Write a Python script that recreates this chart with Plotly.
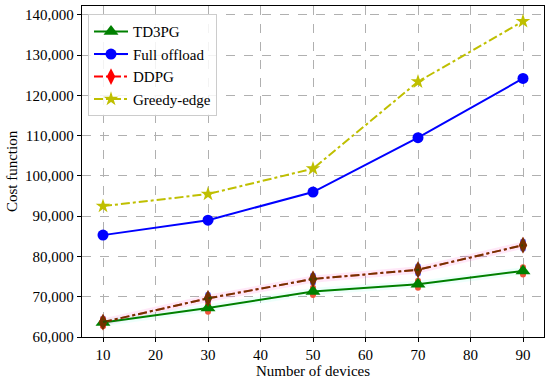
import plotly.graph_objects as go

devices = [10, 30, 50, 70, 90]
td3pg = [63600, 67200, 71300, 73100, 76400]
full_offload = [85300, 89000, 96000, 109500, 124200]
ddpg = [63700, 69600, 74400, 76700, 82800]
greedy_edge = [92500, 95500, 101800, 123400, 138400]
y_ticks = [60000, 70000, 80000, 90000, 100000, 110000, 120000, 130000, 140000]
y_tick_labels = [f"{v:,}" for v in y_ticks]
x_ticks = [10, 20, 30, 40, 50, 60, 70, 80, 90]

FONT = "Liberation Serif"
band = 900

fig = go.Figure()

# faint shaded bands
fig.add_trace(go.Scatter(x=devices + devices[::-1],
                         y=[v + band for v in ddpg] + [v - band for v in ddpg[::-1]],
                         fill="toself", fillcolor="rgba(255,80,200,0.13)",
                         line=dict(width=0), showlegend=False, hoverinfo="skip"))
fig.add_trace(go.Scatter(x=devices + devices[::-1],
                         y=[v + band for v in td3pg] + [v - band for v in td3pg[::-1]],
                         fill="toself", fillcolor="rgba(80,255,220,0.10)",
                         line=dict(width=0), showlegend=False, hoverinfo="skip"))

fig.add_trace(go.Scatter(x=devices, y=td3pg, name="TD3PG", mode="lines+markers",
                         line=dict(color="#008000", width=2),
                         marker=dict(symbol="triangle-up", size=13, color="#008000")))
fig.add_trace(go.Scatter(x=devices, y=full_offload, name="Full offload", mode="lines+markers",
                         line=dict(color="#0000ff", width=2),
                         marker=dict(symbol="circle", size=11, color="#0000ff")))
fig.add_trace(go.Scatter(x=devices, y=ddpg, name="DDPG", mode="lines+markers",
                         line=dict(color="#ff0000", width=2, dash="dashdot"),
                         marker=dict(symbol="diamond-tall", size=12, color="#ff0000")))
# darker overlay (as in the reference the DDPG line appears brownish)
fig.add_trace(go.Scatter(x=devices, y=ddpg, mode="lines+markers", showlegend=False,
                         line=dict(color="rgba(0,90,0,0.55)", width=2, dash="dashdot"),
                         marker=dict(symbol="diamond-tall", size=12, color="rgba(0,90,0,0.55)"),
                         hoverinfo="skip"))
fig.add_trace(go.Scatter(x=devices, y=greedy_edge, name="Greedy-edge", mode="lines+markers",
                         line=dict(color="#bfbf00", width=2, dash="dashdot"),
                         marker=dict(symbol="star", size=11, color="#bfbf00")))

axis_common = dict(showline=True, linecolor="black", linewidth=1.3, mirror=True,
                   ticks="outside", ticklen=4, tickcolor="black", automargin=False,
                   showgrid=True, gridcolor="#b0b0b0", griddash="dash", gridwidth=1,
                   zeroline=False, tickfont=dict(family=FONT, size=15, color="black"))

fig.update_layout(
    width=550, height=380,
    margin=dict(l=82, r=6, t=6, b=43),
    paper_bgcolor="white", plot_bgcolor="white",
    font=dict(family=FONT, size=15, color="black"),
    xaxis=dict(range=[6, 94], tickvals=x_ticks,
               title=dict(text="Number of devices", font=dict(family=FONT, size=15), standoff=0),
               **axis_common),
    yaxis=dict(range=[60000, 142200], tickvals=y_ticks, ticktext=y_tick_labels,
               title=dict(text="Cost function", font=dict(family=FONT, size=15), standoff=3),
               **axis_common),
    legend=dict(x=0.013, y=0.975, xanchor="left", yanchor="top",
                bgcolor="rgba(255,255,255,0.85)", bordercolor="#cccccc", borderwidth=1,
                font=dict(family=FONT, size=15), tracegroupgap=0, itemwidth=34),
    showlegend=True,
)

fig.write_html("out.html", config={"displayModeBar": False},
               post_script="document.body.style.margin='0';document.body.style.overflow='hidden';")
